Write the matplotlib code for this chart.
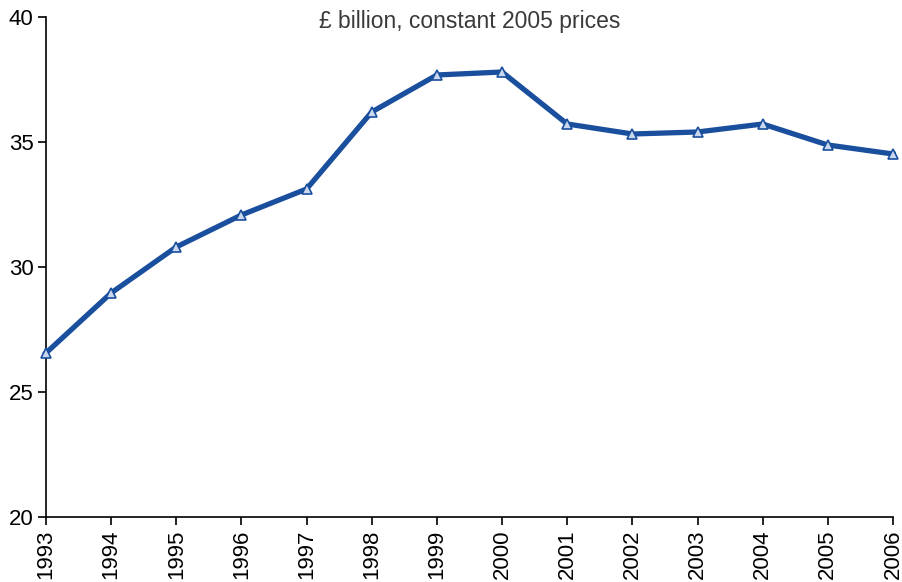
import matplotlib.pyplot as plt

plt.rcParams['font.family'] = ['Liberation Sans', 'DejaVu Sans']

years = [1993, 1994, 1995, 1996, 1997, 1998, 1999, 2000, 2001, 2002, 2003, 2004, 2005, 2006]
values = [26.56, 28.96, 30.8, 32.08, 33.12, 36.2, 37.68, 37.8, 35.72, 35.32, 35.4, 35.72, 34.88, 34.52]
y_ticks = [20, 25, 30, 35, 40]

fig = plt.figure(figsize=(9.03, 5.82), dpi=100)
ax = fig.add_axes([0.0509, 0.1117, 0.9380, 0.8591])

ax.plot(years, values, color='#1a4f9e', linewidth=3.8, marker='^', markersize=6.5,
        markerfacecolor='#c9d8ee', markeredgecolor='#1a4f9e', markeredgewidth=1.2,
        clip_on=False, zorder=3)

ax.set_xlim(years[0], years[-1])
ax.set_ylim(20, 40)
ax.set_xticks(years)
ax.set_xticklabels([str(y) for y in years], rotation=90, fontsize=16)
ax.set_yticks(y_ticks)
ax.set_yticklabels([str(t) for t in y_ticks], fontsize=16)
ax.tick_params(direction='out', length=6, width=1.2, color='black', pad=3)

ax.spines['top'].set_visible(False)
ax.spines['right'].set_visible(False)
ax.spines['left'].set_linewidth(1.2)
ax.spines['bottom'].set_linewidth(1.2)

ax.text(0.5, 0.99, '£ billion, constant 2005 prices', transform=ax.transAxes,
        ha='center', va='center', fontsize=16.5, color='#3a3a3a')

plt.savefig('out.png', dpi=100)
